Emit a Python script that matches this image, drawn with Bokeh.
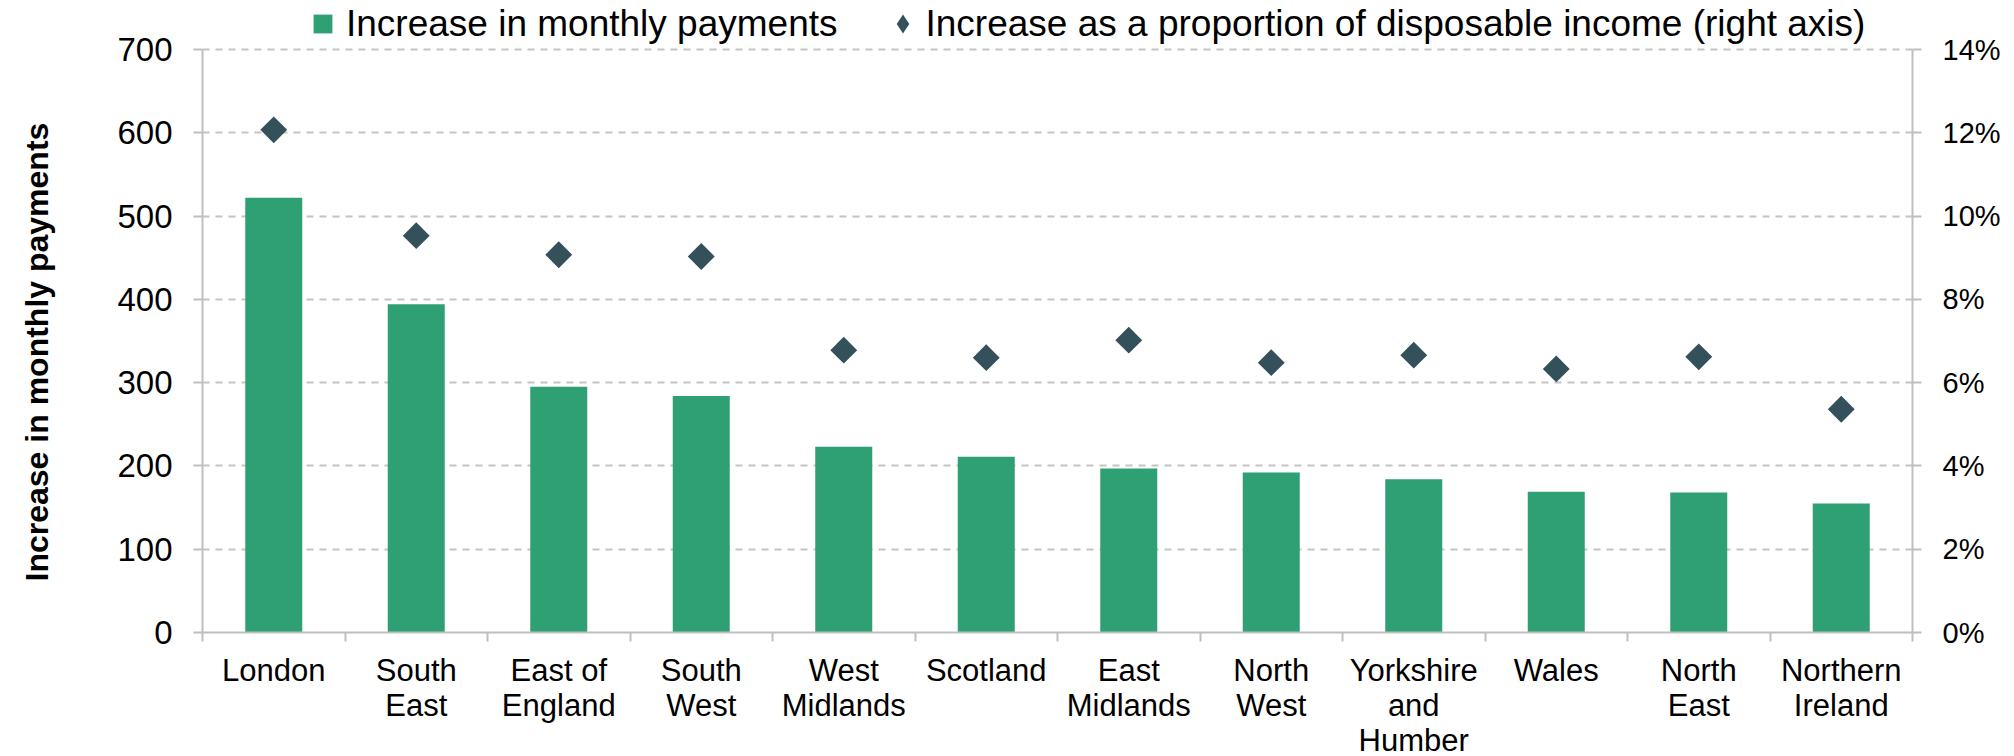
import math
from bokeh.plotting import figure
from bokeh.models import (Range1d, LinearAxis, FixedTicker, PrintfTickFormatter,
                          CustomJSTickFormatter, Legend, LegendItem, ColumnDataSource)
from bokeh.embed import file_html
from bokeh.resources import INLINE

# ---- data ----
regions = ["London", "South East", "East of England", "South West", "West Midlands",
           "Scotland", "East Midlands", "North West", "Yorkshire and Humber", "Wales",
           "North East", "Northern Ireland"]
tick_labels = ["London", "South\nEast", "East of\nEngland", "South\nWest", "West\nMidlands",
               "Scotland", "East\nMidlands", "North\nWest", "Yorkshire\nand\nHumber", "Wales",
               "North\nEast", "Northern\nIreland"]
monthly_increase = [522, 394, 295, 284, 223, 211, 197, 192, 184, 169, 168, 155]
share_of_income = [12.07, 9.53, 9.07, 9.03, 6.78, 6.60, 7.02, 6.48, 6.66, 6.33, 6.62, 5.36]
left_ticks = [0, 100, 200, 300, 400, 500, 600, 700]
right_ticks = [0, 2, 4, 6, 8, 10, 12, 14]
y_title = "Increase in monthly payments"
legend_labels = ["Increase in monthly payments",
                 "Increase as a proportion of disposable income (right axis)"]

FONT = "Liberation Sans"
GREY = "#bfbfbf"
BAR = "#2f9f74"
DIAMOND = "#34505a"

# frame spans the legend strip too; axes are bounded to the data scale
FRAME_H = 632
PLOT_H = 583
head = FRAME_H / PLOT_H

pos = [i + 0.5 for i in range(len(regions))]
boundaries = list(range(len(regions) + 1))
src = ColumnDataSource(dict(pos=pos, region=regions, monthly=monthly_increase,
                            share=share_of_income))

p = figure(frame_width=1710, frame_height=FRAME_H,
           min_border_left=202, min_border_right=102, min_border_top=0, min_border_bottom=124,
           x_range=Range1d(0, len(regions)),
           y_range=Range1d(left_ticks[0], left_ticks[-1] * head),
           output_backend="svg", toolbar_location=None)
p.outline_line_color = None
p.background_fill_color = "white"
p.border_fill_color = "white"

# x axis
xa = p.xaxis[0]
xa.ticker = FixedTicker(ticks=pos, minor_ticks=boundaries)
xa.formatter = CustomJSTickFormatter(args=dict(labels=tick_labels),
                                     code="return labels[Math.floor(tick)];")
xa.major_tick_out = 0
xa.major_tick_in = 0
xa.minor_tick_out = 9
xa.minor_tick_in = 0
xa.minor_tick_line_color = GREY
xa.minor_tick_line_width = 2
xa.axis_line_color = GREY
xa.axis_line_width = 2
xa.major_label_standoff = 11
xa.major_label_text_font = FONT
xa.major_label_text_font_size = "31px"
xa.major_label_text_line_height = 1.0
xa.major_label_text_color = "black"

# left axis
ya = p.yaxis[0]
ya.bounds = (left_ticks[0], left_ticks[-1])
ya.ticker = FixedTicker(ticks=left_ticks)
ya.major_tick_out = 9
ya.major_tick_in = 0
ya.minor_tick_out = 0
ya.minor_tick_in = 0
ya.major_tick_line_color = GREY
ya.major_tick_line_width = 2
ya.axis_line_color = GREY
ya.axis_line_width = 2
ya.major_label_standoff = 21
ya.major_label_text_font = FONT
ya.major_label_text_font_size = "33px"
ya.major_label_text_color = "black"
# trailing no-break spaces keep the title centred on the 0-700 scale
ya.axis_label = y_title + "\u00a0" * 8
ya.axis_label_text_font = FONT
ya.axis_label_text_font_style = "bold"
ya.axis_label_text_font_size = "32px"
ya.axis_label_text_color = "black"
ya.axis_label_standoff = 59

# right axis
p.extra_y_ranges = {"pct": Range1d(right_ticks[0], right_ticks[-1] * head)}
ra = LinearAxis(y_range_name="pct", ticker=FixedTicker(ticks=right_ticks),
                formatter=PrintfTickFormatter(format="%d%%"),
                bounds=(right_ticks[0], right_ticks[-1]))
ra.major_tick_out = 9
ra.major_tick_in = 0
ra.minor_tick_out = 0
ra.minor_tick_in = 0
ra.major_tick_line_color = GREY
ra.major_tick_line_width = 2
ra.axis_line_color = GREY
ra.axis_line_width = 2
ra.major_label_standoff = 21
ra.major_label_text_font = FONT
ra.major_label_text_font_size = "29px"
ra.major_label_text_color = "black"
p.add_layout(ra, "right")

# grid
p.xgrid.visible = False
p.ygrid.ticker = FixedTicker(ticks=left_ticks)
p.ygrid.grid_line_color = "#c4c4c4"
p.ygrid.grid_line_width = 2
p.ygrid.grid_line_dash = "7 6"

bars = p.vbar(x="pos", top="monthly", bottom=0, width=0.4, source=src,
              fill_color=BAR, line_color=None)
pts = p.scatter(x="pos", y="share", y_range_name="pct", source=src, marker="square",
                angle=math.pi / 4, size=19, fill_color=DIAMOND, line_color=None)

# legend swatches (zero-size markers: they only draw in the legend)
leg_bar = p.scatter(x="pos", y="monthly", source=src, marker="square", size=0,
                    fill_color=BAR, line_color=None)
leg_pt = p.scatter(x="pos", y="share", y_range_name="pct", source=src, marker="diamond",
                   size=0, fill_color=DIAMOND, line_color=None)

legend = Legend(items=[LegendItem(label=legend_labels[0], renderers=[leg_bar]),
                       LegendItem(label=legend_labels[1], renderers=[leg_pt])],
                location=(97, 585), orientation="horizontal", padding=0, margin=0,
                spacing=41, label_standoff=-4, glyph_width=47, glyph_height=47,
                label_text_font=FONT, label_text_font_size="37px", label_text_color="black",
                border_line_color=None, background_fill_alpha=0)
p.add_layout(legend)

open("out.html", "w").write(file_html(p, INLINE))
